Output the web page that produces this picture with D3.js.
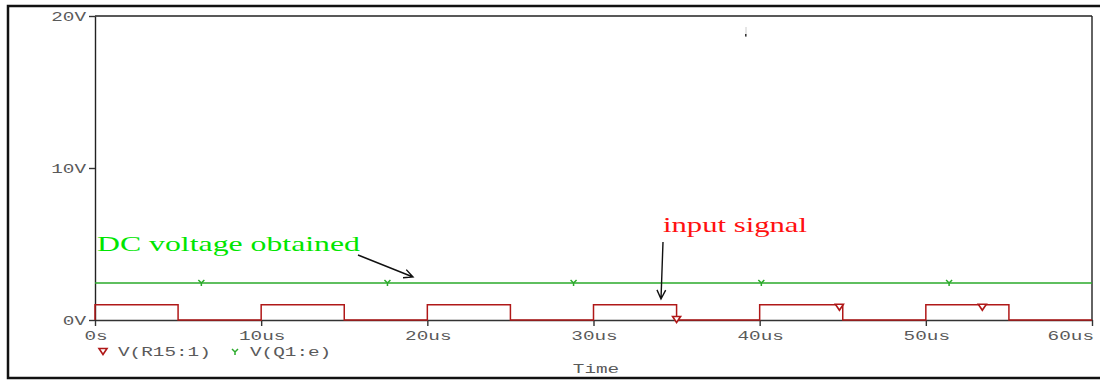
<!DOCTYPE html>
<html>
<head>
<meta charset="utf-8">
<script src="https://cdn.jsdelivr.net/npm/d3@7"></script>
<style>
  html, body { margin: 0; padding: 0; background: #fff; }
  svg { display: block; }
</style>
</head>
<body>
<svg id="chart" width="1100" height="380"></svg>
<script>
// Transient simulation traces (time in µs, voltage in V)
const inputTime = [0, 0, 5, 5, 10, 10, 15, 15, 20, 20, 25, 25, 30, 30, 35, 35, 40, 40, 45, 45, 50, 50, 55, 55, 60];
const inputVolt = [0, 1, 1, 0, 0, 1, 1, 0, 0, 1, 1, 0, 0, 1, 1, 0, 0, 1, 1, 0, 0, 1, 1, 0, 0];
const dcTime = [0, 60];
const dcVolt = [2.43, 2.43];

// Trace marker positions
const inputMarkTime = [35.0, 44.8, 53.4];
const inputMarkVolt = [0, 1, 1];
const dcMarkTime = [6.4, 17.6, 28.8, 40.1, 51.4];

// Axis ticks
const xTicks = [0, 10, 20, 30, 40, 50, 60];
const xTickLabels = ["0s", "10us", "20us", "30us", "40us", "50us", "60us"];
const yTicks = [0, 10, 20];
const yTickLabels = ["0V", "10V", "20V"];

// Legend entries
const legendNames = ["V(R15:1)", "V(Q1:e)"];

const svg = d3.select("#chart");
const RED = "#b01818", GREEN = "#2aaa2a";
const MONO = "'Liberation Mono', 'Courier New', monospace";
const SERIF = "'Liberation Serif', 'Times New Roman', serif";
const CHAR_W = 11.6;

const x = d3.scaleLinear().domain([0, 60]).range([95, 1092]);
const y = d3.scaleLinear().domain([0, 20]).range([320, 16]);

// Outer window frame
svg.append("rect")
  .attr("x", 8).attr("y", 6).attr("width", 1100).attr("height", 372)
  .attr("fill", "none").attr("stroke", "#111").attr("stroke-width", 2.5);

// Wide monospace text helper
function mono(sel, txt) {
  sel.text(txt)
    .attr("font-family", MONO).attr("font-size", 13).attr("fill", "#5a5a5a")
    .attr("textLength", txt.length * CHAR_W).attr("lengthAdjust", "spacingAndGlyphs");
  return sel;
}

// Plot frame: top and right edges
svg.append("line").attr("x1", x(0)).attr("x2", x(60)).attr("y1", y(20)).attr("y2", y(20))
  .attr("stroke", "#222").attr("stroke-width", 1.4);
svg.append("line").attr("x1", x(60)).attr("x2", x(60)).attr("y1", y(20)).attr("y2", y(0))
  .attr("stroke", "#222").attr("stroke-width", 1.4);

// X axis
const xAxis = svg.append("g").attr("transform", `translate(0,${y(0)})`)
  .call(d3.axisBottom(x).tickValues(xTicks).tickSize(6).tickSizeOuter(0).tickFormat(""));
xAxis.select(".domain").attr("stroke", "#333").attr("stroke-width", 1.4);
xAxis.selectAll(".tick line").attr("stroke", "#333").attr("stroke-width", 1.4);
xTicks.forEach((t, i) => {
  const last = i === xTicks.length - 1;
  mono(svg.append("text"), xTickLabels[i])
    .attr("x", last ? x(t) + 2 : x(t) + 1).attr("y", 340)
    .attr("text-anchor", last ? "end" : "middle");
});

// Y axis
const yAxis = svg.append("g").attr("transform", `translate(${x(0)},0)`)
  .call(d3.axisLeft(y).tickValues(yTicks).tickSize(6).tickSizeOuter(0).tickFormat(""));
yAxis.select(".domain").attr("stroke", "#222").attr("stroke-width", 1.4);
yAxis.selectAll(".tick line").attr("stroke", "#333").attr("stroke-width", 1.4);
yTicks.forEach((t, i) => {
  mono(svg.append("text"), yTickLabels[i])
    .attr("x", 86).attr("y", y(t) + 4.5).attr("text-anchor", "end");
});

// Traces
const line = d3.line().x(d => x(d[0])).y(d => y(d[1]));
svg.append("path")
  .datum(dcTime.map((t, i) => [t, dcVolt[i]]))
  .attr("d", line).attr("fill", "none").attr("stroke", GREEN).attr("stroke-width", 1.5);
svg.append("path")
  .datum(inputTime.map((t, i) => [t, inputVolt[i]]))
  .attr("d", line).attr("fill", "none").attr("stroke", RED).attr("stroke-width", 1.5);

// Marker glyphs
function triangle(g, cx, top) {
  g.append("path")
    .attr("d", `M${cx - 4},${top} L${cx + 4},${top} L${cx},${top + 6} Z`)
    .attr("fill", "#fff").attr("stroke", RED).attr("stroke-width", 1.6);
}
function yMark(g, cx, cy) {
  g.append("path")
    .attr("d", `M${cx - 3},${cy - 3} L${cx},${cy} L${cx + 3},${cy - 3} M${cx},${cy} L${cx},${cy + 3}`)
    .attr("fill", "none").attr("stroke", GREEN).attr("stroke-width", 1.5);
}
const marks = svg.append("g");
inputMarkTime.forEach((t, i) => {
  const v = inputMarkVolt[i];
  triangle(marks, x(t), v > 0 ? y(v) - 0.5 : y(v) - 3.5);
});
dcMarkTime.forEach(t => yMark(marks, x(t), y(dcVolt[0])));

// Legend
triangle(svg, 103, 348.5);
mono(svg.append("text"), legendNames[0]).attr("x", 118).attr("y", 356);
yMark(svg, 235, 352);
mono(svg.append("text"), legendNames[1]).attr("x", 250).attr("y", 356);

// X axis title
mono(svg.append("text"), "Time").attr("x", 596).attr("y", 373).attr("text-anchor", "middle");

// Annotations
svg.append("text").text("DC voltage obtained")
  .attr("x", 97).attr("y", 251)
  .attr("font-family", SERIF).attr("font-size", 22).attr("fill", "#00e600")
  .attr("textLength", 263).attr("lengthAdjust", "spacingAndGlyphs");
svg.append("text").text("input signal")
  .attr("x", 663).attr("y", 232)
  .attr("font-family", SERIF).attr("font-size", 22).attr("fill", "#ff1010")
  .attr("textLength", 144).attr("lengthAdjust", "spacingAndGlyphs");

function arrow(x1, y1, x2, y2) {
  const a = Math.atan2(y2 - y1, x2 - x1), L = 10, w = 0.45;
  const p1 = [x2 - L * Math.cos(a - w), y2 - L * Math.sin(a - w)];
  const p2 = [x2 - L * Math.cos(a + w), y2 - L * Math.sin(a + w)];
  svg.append("path")
    .attr("d", `M${x1},${y1} L${x2},${y2} M${p1[0]},${p1[1]} L${x2},${y2} L${p2[0]},${p2[1]}`)
    .attr("fill", "none").attr("stroke", "#111").attr("stroke-width", 1.4);
}
arrow(358, 255, 413, 277);
arrow(663, 242, 661, 299);

// Small stray cursor mark near the top
svg.append("line").attr("x1", 746).attr("x2", 746).attr("y1", 27).attr("y2", 37)
  .attr("stroke", "#ccc").attr("stroke-width", 1);
svg.append("rect").attr("x", 745).attr("y", 34).attr("width", 1.5).attr("height", 2.5).attr("fill", "#333");
</script>
</body>
</html>
